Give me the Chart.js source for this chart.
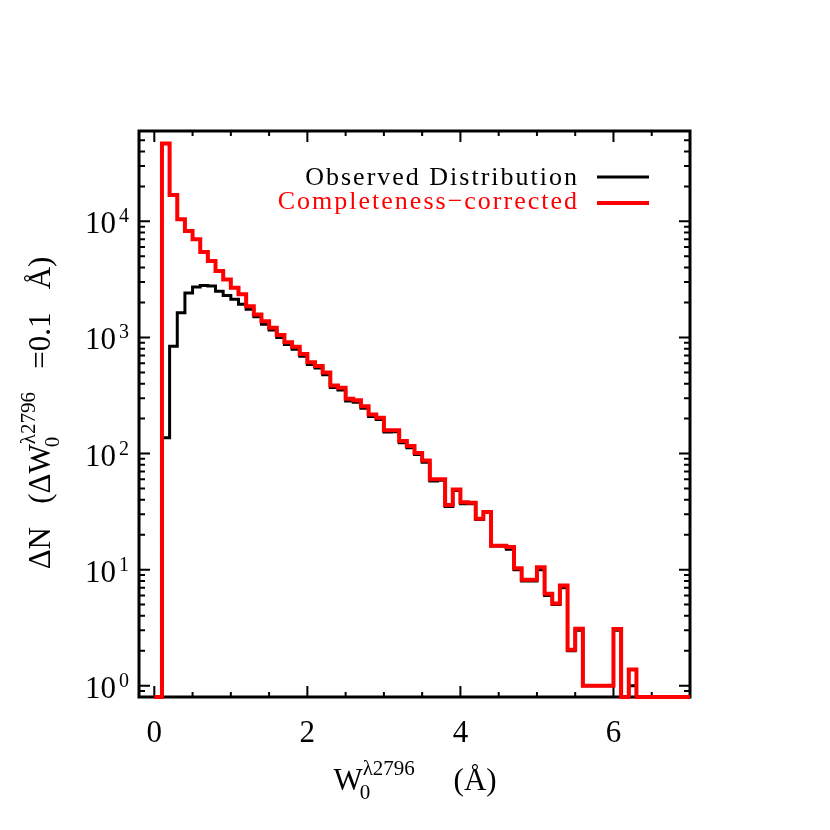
<!DOCTYPE html>
<html>
<head>
<meta charset="utf-8">
<script src="https://cdn.jsdelivr.net/npm/chart.js@4.4.1/dist/chart.umd.min.js"></script>
<style>
  html, body { margin: 0; padding: 0; background: #fff; }
</style>
</head>
<body>
<canvas id="ewChart" width="830" height="830"></canvas>
<script>
// MgII 2796 rest equivalent width distribution, 0.1 A bins (left edges)
const binLow = [
  0.0, 0.1, 0.2, 0.3, 0.4, 0.5, 0.6, 0.7, 0.8, 0.9,
  1.0, 1.1, 1.2, 1.3, 1.4, 1.5, 1.6, 1.7, 1.8, 1.9,
  2.0, 2.1, 2.2, 2.3, 2.4, 2.5, 2.6, 2.7, 2.8, 2.9,
  3.0, 3.1, 3.2, 3.3, 3.4, 3.5, 3.6, 3.7, 3.8, 3.9,
  4.0, 4.1, 4.2, 4.3, 4.4, 4.5, 4.6, 4.7, 4.8, 4.9,
  5.0, 5.1, 5.2, 5.3, 5.4, 5.5, 5.6, 5.7, 5.8, 5.9,
  6.0, 6.1, 6.2, 6.3, 6.4, 6.5, 6.6, 6.7, 6.8, 6.9
];
const binTop = 7.0;

const observed = [
  0, 137, 841, 1633, 2420, 2718, 2800, 2770, 2500, 2300,
  2130, 1930, 1750, 1510, 1300, 1160, 1000, 870, 790, 690,
  585, 545, 478, 370, 352, 284, 277, 246, 209, 196,
  153, 154, 124, 112, 98, 84, 58, 59, 35, 48,
  37, 37, 27, 31, 16, 16, 15, 10, 8, 8,
  10, 6, 5, 7, 2, 3, 1, 1, 1, 1,
  3, 0, 1, 0, 0, 0, 0, 0, 0, 0
];

const corrected = [
  0, 46800, 16860, 10400, 8250, 7000, 5440, 4550, 3730, 3160,
  2680, 2350, 1860, 1580, 1380, 1210, 1050, 910, 830, 720,
  610, 568, 500, 386, 368, 296, 288, 256, 217, 203,
  159, 159, 128, 116, 101, 87, 60, 60, 36, 49,
  38, 37.6, 27.5, 31.4, 16.1, 16.1, 15.7, 10.3, 8.2, 8.2,
  10.5, 6.2, 5.1, 7.3, 2.04, 3.1, 1.0, 1.0, 1.0, 1.0,
  3.08, 0, 1.38, 0, 0, 0, 0, 0, 0, 0
];

const xTickLabels = [0, 2, 4, 6];
const yTickLabels = [1, 10, 100, 1000, 10000];

const X_MIN = -0.2, X_MAX = 7.0;
const Y_MIN = 0.8, Y_MAX = 6.0e4;
const SERIF = '"Liberation Serif", "DejaVu Serif", serif';

// empty bins sit on the lower axis, like IDL does on a log plot
function toSteps(vals) {
  const pts = binLow.map((x, i) => ({ x: x, y: vals[i] > 0 ? vals[i] : Y_MIN }));
  pts.push({ x: binTop, y: pts[pts.length - 1].y });
  return pts;
}

// frame, inward ticks on all four sides
const idlFrame = {
  id: 'idlFrame',
  beforeDatasetsDraw(chart) {
    const { ctx, chartArea: a, scales: { x, y } } = chart;
    ctx.save();
    ctx.strokeStyle = '#000';
    ctx.lineWidth = 3;
    ctx.strokeRect(a.left, a.top, a.right - a.left, a.bottom - a.top);

    ctx.lineWidth = 2;
    ctx.beginPath();
    for (let v = 0; v <= X_MAX + 1e-6; v += 0.5) {
      const px = x.getPixelForValue(v);
      const len = xTickLabels.includes(v) ? 11 : 5;
      ctx.moveTo(px, a.bottom); ctx.lineTo(px, a.bottom - len);
      ctx.moveTo(px, a.top); ctx.lineTo(px, a.top + len);
    }
    for (let k = -1; k <= 4; k++) {
      for (let m = 1; m <= 9; m++) {
        const v = m * Math.pow(10, k);
        if (v < Y_MIN || v > Y_MAX) continue;
        const py = y.getPixelForValue(v);
        const len = m === 1 ? 11 : 6;
        ctx.moveTo(a.left, py); ctx.lineTo(a.left + len, py);
        ctx.moveTo(a.right, py); ctx.lineTo(a.right - len, py);
      }
    }
    ctx.stroke();
    ctx.restore();
  },
  afterDraw(chart) {
    const { ctx, chartArea: a, scales: { x, y } } = chart;
    ctx.save();
    ctx.fillStyle = '#000';

    // x tick labels
    ctx.font = '31px ' + SERIF;
    ctx.textAlign = 'center';
    ctx.textBaseline = 'alphabetic';
    xTickLabels.forEach(v => ctx.fillText(String(v), x.getPixelForValue(v), a.bottom + 45));

    // y tick labels: 10^k
    ctx.textAlign = 'left';
    yTickLabels.forEach(v => {
      const py = y.getPixelForValue(v);
      const k = String(Math.round(Math.log10(v)));
      ctx.font = '31px ' + SERIF;
      const w1 = ctx.measureText('10').width;
      ctx.font = '20px ' + SERIF;
      const w2 = ctx.measureText(k).width;
      const x0 = 128 - w1 - w2 - 2;
      ctx.font = '31px ' + SERIF;
      ctx.fillText('10', x0, py + 12);
      ctx.font = '20px ' + SERIF;
      ctx.fillText(k, x0 + w1 + 3, py + 1);
    });

    // axis titles
    drawXTitle(ctx, 415, 790);
    drawYTitle(ctx, 50, 413);

    // legend
    ctx.font = '26px ' + SERIF;
    ctx.letterSpacing = '2px';
    ctx.textAlign = 'right';
    ctx.fillStyle = '#000';
    ctx.fillText('Observed Distribution', 579, 185);
    ctx.fillStyle = '#ff0000';
    ctx.fillText('Completeness\u2212corrected', 579, 209);
    ctx.letterSpacing = '0px';
    ctx.lineWidth = 3;
    ctx.strokeStyle = '#000';
    ctx.beginPath(); ctx.moveTo(597, 177); ctx.lineTo(649, 177); ctx.stroke();
    ctx.strokeStyle = '#ff0000';
    ctx.lineWidth = 4;
    ctx.beginPath(); ctx.moveTo(597, 203); ctx.lineTo(649, 203); ctx.stroke();
    ctx.restore();
  }
};

// W_0^lambda2796   (A)
function drawXTitle(ctx, cx, base) {
  const big = '31px ' + SERIF, small = '21px ' + SERIF;
  ctx.textAlign = 'left';
  ctx.font = big; const wW = ctx.measureText('W').width;
  ctx.font = small; const wSup = ctx.measureText('\u03bb2796').width;
  ctx.font = big; const wTail = ctx.measureText('     (\u00c5)').width;
  let xx = cx - (wW + wSup + wTail) / 2;
  ctx.font = big; ctx.fillText('W', xx, base); xx += wW;
  ctx.font = small;
  ctx.fillText('0', xx - 3, base + 9);
  ctx.fillText('\u03bb2796', xx, base - 15);
  xx += wSup;
  ctx.font = big; ctx.fillText('     (\u00c5)', xx, base);
}

// DeltaN (DeltaW_0^lambda2796 =0.1 A), rotated
function drawYTitle(ctx, bx, cy) {
  const big = '31px ' + SERIF, small = '21px ' + SERIF;
  ctx.save();
  ctx.translate(bx, cy);
  ctx.rotate(-Math.PI / 2);
  ctx.textAlign = 'left';
  const head = '\u0394N   (\u0394W', tail = '   =0.1   \u00c5)';
  ctx.font = big; const w1 = ctx.measureText(head).width; const w3 = ctx.measureText(tail).width;
  ctx.font = small; const w2 = ctx.measureText('\u03bb2796').width;
  let xx = -(w1 + w2 + w3) / 2;
  ctx.font = big; ctx.fillText(head, xx, 0); xx += w1;
  ctx.font = small;
  ctx.fillText('0', xx - 3, 9);
  ctx.fillText('\u03bb2796', xx, -15);
  xx += w2;
  ctx.font = big; ctx.fillText(tail, xx, 0);
  ctx.restore();
}

const ewChart = new Chart(document.getElementById('ewChart'), {
  type: 'line',
  data: {
    datasets: [
      {
        label: 'Observed Distribution',
        data: toSteps(observed),
        borderColor: '#000000',
        borderWidth: 3,
        stepped: 'before',
        pointRadius: 0,
        fill: false,
        order: 2,
        clip: { left: 0, top: 0, right: 0, bottom: 3 }
      },
      {
        label: 'Completeness-corrected',
        data: toSteps(corrected),
        borderColor: '#ff0000',
        borderWidth: 4,
        stepped: 'before',
        pointRadius: 0,
        fill: false,
        order: 1,
        clip: { left: 0, top: 0, right: 0, bottom: 3 }
      }
    ]
  },
  options: {
    responsive: false,
    animation: false,
    events: [],
    layout: { padding: { left: 139, right: 140, top: 131, bottom: 133 } },
    plugins: {
      legend: { display: false },
      tooltip: { enabled: false }
    },
    scales: {
      x: { type: 'linear', min: X_MIN, max: X_MAX, display: false },
      y: { type: 'logarithmic', min: Y_MIN, max: Y_MAX, display: false }
    }
  },
  plugins: [idlFrame]
});
</script>
</body>
</html>
